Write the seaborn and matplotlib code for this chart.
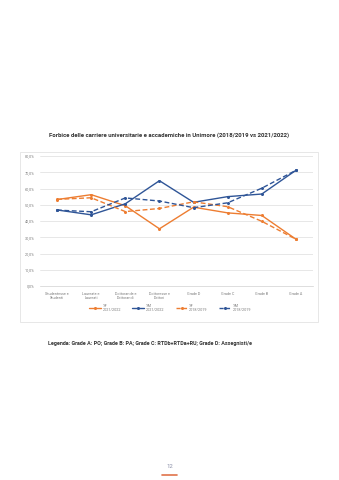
import matplotlib
matplotlib.use("Agg")
import matplotlib.pyplot as plt
from matplotlib.patches import Rectangle
from matplotlib.lines import Line2D
from matplotlib.ticker import FuncFormatter
import seaborn as sns
import pandas as pd

categories = ["Studentesse e\nStudenti", "Laureate e\nLaureati", "Dottorande e\nDottorandi",
              "Dottoresse e\nDottori", "Grade D", "Grade C", "Grade B", "Grade A"]
f_2122 = [0.532, 0.562, 0.494, 0.352, 0.485, 0.450, 0.434, 0.288]
m_2122 = [0.468, 0.438, 0.506, 0.648, 0.515, 0.550, 0.566, 0.712]
f_1819 = [0.533, 0.543, 0.458, 0.477, 0.518, 0.488, 0.398, 0.288]
m_1819 = [0.467, 0.457, 0.542, 0.523, 0.482, 0.512, 0.602, 0.712]
series_labels = ["%F\n2021/2022", "%M\n2021/2022", "%F\n2018/2019", "%M\n2018/2019"]

ORANGE = "#ED7D31"
BLUE = "#2F5597"

rows = []
for lab, vals in zip(series_labels, [f_2122, m_2122, f_1819, m_1819]):
    for i, v in enumerate(vals):
        rows.append({"x": i, "val": v, "serie": lab})
df = pd.DataFrame(rows)

sns.set_style("white")
plt.rcParams['font.family'] = ['Roboto', 'DejaVu Sans']

fig = plt.figure(figsize=(3.39, 4.80), dpi=100)
W, H = 339, 480

def fx(px):
    return px / W

def fy(py):
    return 1 - py / H

# chart frame
fig.patches.append(Rectangle((fx(20), fy(322)), fx(318) - fx(20), fy(152) - fy(322),
                             transform=fig.transFigure, fill=False, edgecolor="#E3E3E3",
                             linewidth=0.6))

ax = fig.add_axes([fx(40), fy(286), fx(313) - fx(40), fy(156) - fy(286)])

palette = {series_labels[0]: ORANGE, series_labels[1]: BLUE,
           series_labels[2]: ORANGE, series_labels[3]: BLUE}
dashes = {series_labels[0]: "", series_labels[1]: "",
          series_labels[2]: (3.5, 1.8), series_labels[3]: (3.5, 1.8)}
sns.lineplot(data=df, x="x", y="val", hue="serie", style="serie", palette=palette,
             dashes=dashes, markers={s: "o" for s in series_labels}, markersize=2.2,
             markeredgewidth=0, linewidth=1.0, ax=ax, legend=False)

ax.set_xlim(-0.5, len(categories) - 0.5)
ax.set_ylim(0, 0.8)
ax.set_yticks([i / 10 for i in range(9)])
ax.yaxis.set_major_formatter(FuncFormatter(lambda v, p: f"{v*100:.1f}%".replace(".", ",")))
ax.set_xticks(range(len(categories)))
ax.set_xticklabels(categories)
ax.tick_params(axis="both", length=0, labelsize=2.7, colors="#7F7F7F", pad=4)
ax.grid(axis="y", color="#DDDDDD", linewidth=0.5)
ax.grid(axis="x", visible=False)
for s in ["top", "right", "left"]:
    ax.spines[s].set_visible(False)
ax.spines["bottom"].set_color("#D0D0D0")
ax.spines["bottom"].set_linewidth(0.5)
ax.set_xlabel("")
ax.set_ylabel("")

handles = [
    Line2D([], [], color=ORANGE, linewidth=1.0, marker="o", markersize=2.2, markeredgewidth=0),
    Line2D([], [], color=BLUE, linewidth=1.0, marker="o", markersize=2.2, markeredgewidth=0),
    Line2D([], [], color=ORANGE, linewidth=1.0, linestyle=(0, (3.0, 1.6)), marker="o", markersize=2.2, markeredgewidth=0),
    Line2D([], [], color=BLUE, linewidth=1.0, linestyle=(0, (3.0, 1.6)), marker="o", markersize=2.2, markeredgewidth=0),
]
leg = fig.legend(handles, series_labels, loc="center", bbox_to_anchor=(fx(170), fy(308)),
                 ncol=4, frameon=False, fontsize=2.7, handlelength=3.2, columnspacing=3.0,
                 handletextpad=0.4)
for t in leg.get_texts():
    t.set_color("#7F7F7F")

fig.text(fx(169), fy(135), "Forbice delle carriere universitarie e accademiche in Unimore (2018/2019 vs 2021/2022)",
         ha="center", va="center", fontsize=4.3, color="#333333", fontweight="bold")
fig.text(fx(48), fy(343), "Legenda: Grade A: PO; Grade B: PA; Grade C: RTDb+RTDa+RU; Grade D: Assegnisti/e",
         ha="left", va="center", fontsize=3.9, color="#333333", fontweight="bold")
fig.text(fx(169.5), fy(467), "12", ha="center", va="center", fontsize=4.3, color="#8A8FA8")
fig.add_artist(Line2D([fx(162), fx(177)], [fy(475), fy(475)], transform=fig.transFigure,
                      color="#E0734A", linewidth=1.2))

fig.savefig("out.png", dpi=100, facecolor="white")
